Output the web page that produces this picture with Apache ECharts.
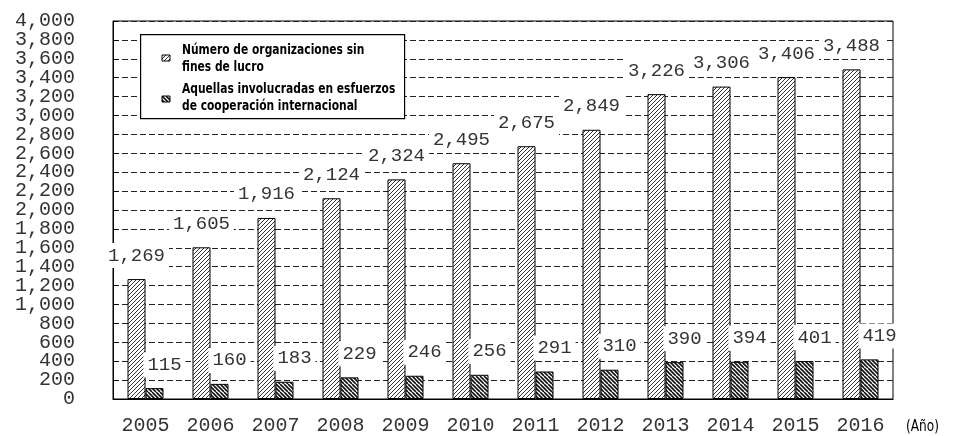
<!DOCTYPE html>
<html>
<head>
<meta charset="utf-8">
<script src="https://cdn.jsdelivr.net/npm/echarts@6/dist/echarts.min.js"></script>
<style>
html,body{margin:0;padding:0;background:#fff;}
#chart{width:954px;height:436px;}
</style>
</head>
<body>
<div id="chart"></div>
<script>
var years = ['2005','2006','2007','2008','2009','2010','2011','2012','2013','2014','2015','2016'];
var totalNPO = [1269,1605,1916,2124,2324,2495,2675,2849,3226,3306,3406,3488];
var intlNPO = [115,160,183,229,246,256,291,310,390,394,401,419];
var seriesNames = ['Número de organizaciones sin\nfines de lucro', 'Aquellas involucradas en esfuerzos\nde cooperación internacional'];
var unitLabel = '(Año)';

function makePattern(dir, lineWidth, spacing, color) {
  var size = spacing * 2;
  var c = document.createElement('canvas');
  c.width = size; c.height = size;
  var ctx = c.getContext('2d');
  ctx.fillStyle = '#fff';
  ctx.fillRect(0, 0, size, size);
  ctx.strokeStyle = color;
  ctx.lineWidth = lineWidth;
  for (var x = -size; x <= size * 2; x += spacing) {
    ctx.beginPath();
    if (dir === '/') { ctx.moveTo(x, size); ctx.lineTo(x + size, 0); }
    else { ctx.moveTo(x, 0); ctx.lineTo(x + size, size); }
    ctx.stroke();
  }
  return { image: c, repeat: 'repeat' };
}

var pat1 = makePattern('/', 1, 4, '#333');
var pat2 = makePattern('\\', 1.6, 4, '#111');

var monoFont = '"Liberation Mono", "DejaVu Sans Mono", monospace';
var narrowFont = '"DejaVu Sans Condensed", "Noto Sans", sans-serif';
function fmt(v) { return Number(v).toLocaleString('en-US'); }
var labelStyle = { fontFamily: monoFont, fontSize: 20, color: '#333', margin: 38 };

var chart = echarts.init(document.getElementById('chart'), null, { renderer: 'canvas' });
chart.setOption({
  animation: false,
  backgroundColor: '#fff',
  grid: { left: 113, right: 61, top: 21, bottom: 33, show: true, borderColor: '#000', borderWidth: 1, backgroundColor: 'transparent' },
  legend: { show: false, data: seriesNames },
  graphic: [
    { type: 'rect', left: 140, top: 34, z: 10, shape: { width: 264, height: 84 }, style: { fill: '#fff', stroke: '#000', lineWidth: 1.2 } },
    { type: 'rect', x: 162, y: 55, z: 11, shape: { width: 8, height: 6 }, style: { fill: pat1, stroke: '#000', lineWidth: 1 } },
    { type: 'rect', x: 162, y: 96, z: 11, shape: { width: 8, height: 6 }, style: { fill: pat2, stroke: '#000', lineWidth: 1 } },
    { type: 'text', x: 182, y: 42, z: 11, scaleX: 0.85, style: { text: seriesNames[0], font: 'bold 14px ' + narrowFont, fill: '#000', lineHeight: 17, verticalAlign: 'top' } },
    { type: 'text', x: 182, y: 81, z: 11, scaleX: 0.85, style: { text: seriesNames[1], font: 'bold 14px ' + narrowFont, fill: '#000', lineHeight: 17, verticalAlign: 'top' } },
    { type: 'text', x: 906, y: 420, scaleX: 0.9, style: { text: unitLabel, font: '15px ' + narrowFont, fill: '#000', verticalAlign: 'top' } }
  ],
  xAxis: {
    type: 'category',
    data: years,
    axisLine: { lineStyle: { color: '#000', width: 1 } },
    axisTick: { inside: true, length: 5, lineStyle: { color: '#000' } },
    axisLabel: { fontFamily: monoFont, fontSize: 20, color: '#333', margin: 17 }
  },
  yAxis: [
    {
      type: 'value', position: 'left',
      min: 0, max: 4000, interval: 200,
      axisLine: { show: true, lineStyle: { color: '#000' } },
      axisTick: { show: true, inside: true, length: 5, lineStyle: { color: '#000' } },
      axisLabel: Object.assign({}, labelStyle, { showMinLabel: true, showMaxLabel: true,
        formatter: function (v) { return v % 400 === 0 ? fmt(v) : ''; } }),
      splitLine: { show: true, lineStyle: { color: '#222', width: 1, type: [6, 3] } }
    },
    {
      type: 'value', position: 'left',
      min: 0, max: 4000, interval: 200,
      axisLine: { show: false }, axisTick: { show: false }, splitLine: { show: false },
      axisLabel: Object.assign({}, labelStyle, { showMinLabel: false, showMaxLabel: false,
        formatter: function (v) { return v % 400 === 200 ? fmt(v) : ''; } })
    }
  ],
  series: [
    {
      name: seriesNames[0], type: 'bar', data: totalNPO, barWidth: 18, barGap: '0%', z: 3,
      itemStyle: { color: pat1, borderColor: '#000', borderWidth: 1 },
      label: { show: true, position: 'top', distance: 11, formatter: function (p) { return fmt(p.value); },
        fontFamily: monoFont, fontSize: 19, color: '#333', backgroundColor: '#fff', padding: [3, 4] }
    },
    {
      name: seriesNames[1], type: 'bar', data: intlNPO, barWidth: 18, z: 3,
      itemStyle: { color: pat2, borderColor: '#000', borderWidth: 1 },
      label: { show: true, position: 'top', distance: 11, offset: [10, 0], formatter: function (p) { return fmt(p.value); },
        fontFamily: monoFont, fontSize: 19, color: '#333', backgroundColor: '#fff', padding: [3, 4] }
    }
  ]
});
</script>
</body>
</html>
